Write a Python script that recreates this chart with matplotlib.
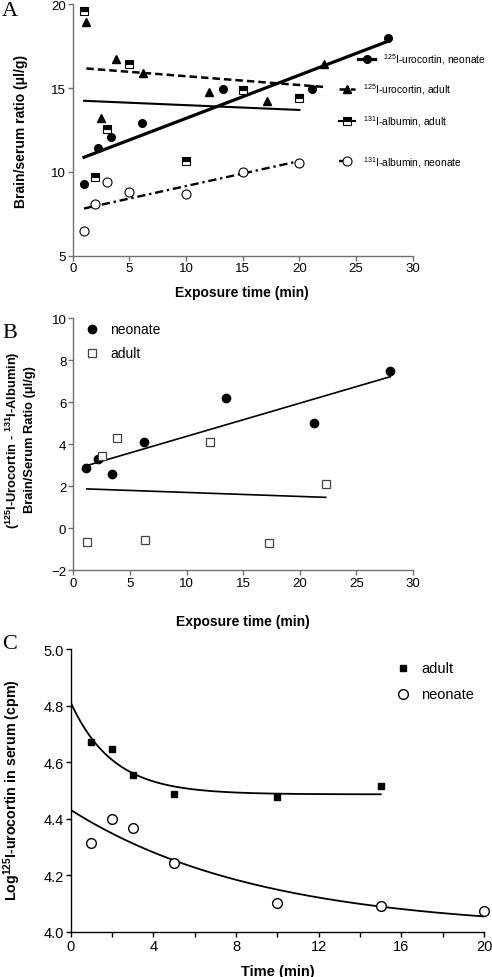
import numpy as np
import matplotlib
matplotlib.use("Agg")
import matplotlib.pyplot as plt

plt.rcParams['font.family'] = ['Liberation Sans', 'DejaVu Sans']
plt.rcParams['mathtext.fontset'] = 'custom'
plt.rcParams['mathtext.rm'] = 'Liberation Sans'
plt.rcParams['mathtext.bf'] = 'Liberation Sans:bold'
plt.rcParams['mathtext.it'] = 'Liberation Sans:italic'

# ---------------- Panel A data ----------------
a_neo_uro_x = [1.0, 2.2, 3.4, 6.1, 13.3, 21.1, 27.8]
a_neo_uro_y = [9.3, 11.4, 12.1, 12.9, 14.95, 14.95, 18.0]
a_ad_uro_x = [1.2, 2.5, 3.8, 6.2, 12.0, 17.1, 22.2]
a_ad_uro_y = [18.95, 13.2, 16.75, 15.9, 14.75, 14.2, 16.45]
a_ad_alb_x = [1, 2, 3, 5, 10, 15, 20]
a_ad_alb_y = [19.6, 9.7, 12.55, 16.45, 10.65, 14.9, 14.4]
a_neo_alb_x = [1, 2, 3, 5, 10, 15, 20]
a_neo_alb_y = [6.45, 8.05, 9.4, 8.8, 8.7, 10.0, 10.55]
a_labels = [r'$^{125}$I-urocortin, neonate', r'$^{125}$I-urocortin, adult',
            r'$^{131}$I-albumin, adult', r'$^{131}$I-albumin, neonate']

# ---------------- Panel B data ----------------
b_neo_x = [1.1, 2.2, 3.45, 6.2, 13.45, 21.25, 28.0]
b_neo_y = [2.85, 3.3, 2.6, 4.1, 6.2, 5.0, 7.5]
b_ad_x = [1.2, 2.5, 3.9, 6.3, 12.1, 17.3, 22.3]
b_ad_y = [-0.65, 3.45, 4.3, -0.55, 4.1, -0.7, 2.1]
b_labels = ['neonate', 'adult']

# ---------------- Panel C data ----------------
c_ad_x = [1, 2, 3, 5, 10, 15]
c_ad_y = [4.67, 4.645, 4.555, 4.487, 4.475, 4.514]
c_neo_x = [1, 2, 3, 5, 10, 15, 20]
c_neo_y = [4.315, 4.40, 4.368, 4.243, 4.102, 4.09, 4.073]
c_ad_fit = (4.486, 0.325, 0.49)     # plateau, span, rate (one-phase decay fit)
c_neo_fit = (4.006, 0.425, 0.109)
c_labels = ['adult', 'neonate']

W, H = 492, 978
fig = plt.figure(figsize=(W / 100, H / 100), dpi=100)

GRAY = '#707070'


def style_axes(ax, spine_color):
    for s in ['top', 'right']:
        ax.spines[s].set_visible(False)
    for s in ['left', 'bottom']:
        ax.spines[s].set_color(spine_color)
        ax.spines[s].set_linewidth(1.0)
    ax.tick_params(direction='out', length=3.5, width=1.0, color=spine_color,
                   labelsize=9.5, pad=1.5)


def fit_line(ax, x, y, **kw):
    p = np.polyfit(x, y, 1)
    xx = np.array([min(x), max(x)])
    ax.plot(xx, np.polyval(p, xx), **kw)


def ylab(xpx, ypx, text, size):
    fig.text(xpx / W, 1 - ypx / H, text, rotation=90, ha='center', va='center',
             fontsize=size, fontweight='bold', linespacing=1.25)


# ======================= Panel A =======================
axA = fig.add_axes([0.1478, 0.7377, 0.691, 0.2569])
style_axes(axA, GRAY)
axA.set_xlim(0, 30)
axA.set_ylim(5, 20)
axA.set_xticks([0, 5, 10, 15, 20, 25, 30])
axA.set_yticks([5, 10, 15, 20])

lsA = [dict(ls='-', lw=2.3),
       dict(ls=(0, (3, 1.6)), lw=1.8),
       dict(ls='-', lw=1.5),
       dict(ls=(0, (3.5, 1.6, 1.0, 1.6)), lw=1.7)]
mkA = [dict(marker='o', ms=5.5, mfc='black', mec='black'),
       dict(marker='^', ms=5.5, mfc='black', mec='black'),
       dict(marker='s', ms=5.5, mfc='black', mfcalt='white', fillstyle='top', mec='black', mew=0.8),
       dict(marker='o', ms=6.5, mfc='white', mec='black', mew=0.8)]
seriesA = [(a_neo_uro_x, a_neo_uro_y), (a_ad_uro_x, a_ad_uro_y),
           (a_ad_alb_x, a_ad_alb_y), (a_neo_alb_x, a_neo_alb_y)]
for (x, y), ls, mk in zip(seriesA, lsA, mkA):
    fit_line(axA, x, y, color='black', zorder=2, **ls)
    axA.plot(x, y, ls='none', zorder=3, clip_on=False, **mk)

# legend A (manual, uneven spacing)
legA = [(0.839, 0.889, 0.865, 0.912, 0.782),
        (0.784, 0.831, 0.806, 0.855, 0.663),
        (0.784, 0.831, 0.806, 0.855, 0.537),
        (0.784, 0.808, 0.808, 0.855, 0.375)]
for (x0, x1, xm, xt, yy), ls, mk, lab in zip(legA, lsA, mkA, a_labels):
    axA.plot([x0, x1], [yy, yy], color='black', transform=axA.transAxes,
             clip_on=False, **ls)
    axA.plot([xm], [yy], ls='none', transform=axA.transAxes, clip_on=False, **mk)
    axA.text(xt, yy, lab, transform=axA.transAxes, fontsize=7.4, va='center',
             ha='left', clip_on=False)

axA.set_xlabel('Exposure time (min)', fontsize=10, fontweight='bold')
axA.xaxis.set_label_coords(0.498, -0.117)
ylab(21, 131, 'Brain/serum ratio (\u03bcl/g)', 10)

# ======================= Panel B =======================
axB = fig.add_axes([0.149, 0.4158, 0.6904, 0.2577])
style_axes(axB, GRAY)
axB.set_xlim(0, 30)
axB.set_ylim(-2, 10)
axB.set_xticks([0, 5, 10, 15, 20, 25, 30])
axB.set_yticks([-2, 0, 2, 4, 6, 8, 10])

mkB = [dict(marker='o', ms=6, mfc='black', mec='black'),
       dict(marker='s', ms=6, mfc='white', mec='#444444', mew=0.9)]
for (x, y), mk in zip([(b_neo_x, b_neo_y), (b_ad_x, b_ad_y)], mkB):
    fit_line(axB, x, y, color='black', lw=1.2, zorder=2)
    axB.plot(x, y, ls='none', zorder=3, clip_on=False, **mk)

for yy, mk, lab in zip([0.957, 0.861], mkB, b_labels):
    axB.plot([0.056], [yy], ls='none', transform=axB.transAxes, clip_on=False, **mk)
    axB.text(0.108, yy, lab, transform=axB.transAxes, fontsize=10, va='center', ha='left')

axB.set_xlabel('Exposure time (min)', fontsize=10, fontweight='bold')
axB.xaxis.set_label_coords(0.5, -0.173)
ylab(20, 440, '($^{\\mathbf{125}}$I-Urocortin - $^{\\mathbf{131}}$I-Albumin)\nBrain/Serum Ratio (\u03bcl/g)', 9.3)

# ======================= Panel C =======================
axC = fig.add_axes([0.1437, 0.0463, 0.840, 0.289])
style_axes(axC, 'black')
axC.tick_params(labelsize=10.5)
axC.set_xlim(0, 20)
axC.set_ylim(4.0, 5.0)
axC.set_xticks([0, 4, 8, 12, 16, 20])
axC.set_xticks([2, 6, 10, 14, 18], minor=True)
axC.tick_params(which='minor', direction='out', length=3.5, width=1.0)
axC.set_yticks([4.0, 4.2, 4.4, 4.6, 4.8, 5.0])
axC.set_yticklabels(['4.0', '4.2', '4.4', '4.6', '4.8', '5.0'])

mkC = [dict(marker='s', ms=5, mfc='black', mec='black'),
       dict(marker='o', ms=7, mfc='white', mec='black', mew=1.0)]
for (x, y), (p, s, k), mk in zip([(c_ad_x, c_ad_y), (c_neo_x, c_neo_y)],
                                  [c_ad_fit, c_neo_fit], mkC):
    xx = np.linspace(0, max(x), 200)
    axC.plot(xx, p + s * np.exp(-k * xx), color='black', lw=1.3, zorder=2)
    axC.plot(x, y, ls='none', zorder=3, clip_on=False, **mk)

for yy, mk, lab in zip([0.933, 0.841], mkC, c_labels):
    axC.plot([0.804], [yy], ls='none', transform=axC.transAxes, clip_on=False, **mk)
    axC.text(0.848, yy, lab, transform=axC.transAxes, fontsize=10.5, va='center', ha='left')

axC.set_xlabel('Time (min)', fontsize=10.5, fontweight='bold')
axC.xaxis.set_label_coords(0.5, -0.114)
ylab(12, 790, 'Log$^{\\mathbf{125}}$I-urocortin in serum (cpm)', 10.3)

# panel letters
for lab, ypx in [('A', 12), ('B', 333), ('C', 645)]:
    fig.text(10 / W, 1 - ypx / H, lab, fontsize=16, family='Liberation Serif',
             ha='center', va='center')

fig.savefig('out.png', dpi=100)
